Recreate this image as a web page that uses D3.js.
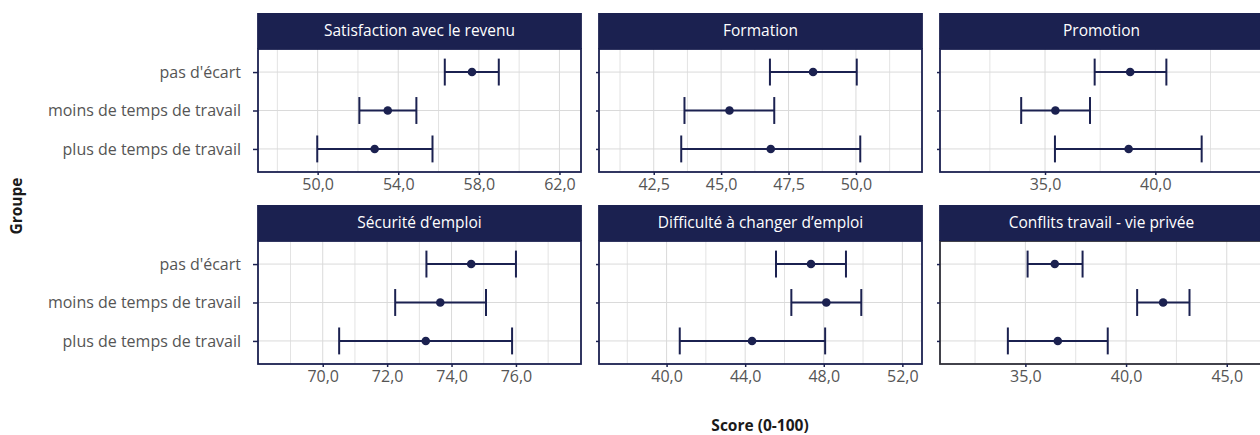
<!DOCTYPE html>
<html>
<head>
<meta charset="utf-8">
<title>Scores par groupe</title>
<script src="https://cdn.jsdelivr.net/npm/d3@7"></script>
<style>
    body { margin: 0; background: #fff; overflow: hidden; }
    svg text { font-family: "Open Sans", "Noto Sans", sans-serif; }
</style>
</head>
<body>
<div id="container"></div>
<script>
// categories
var groups = ["pas d'écart", "moins de temps de travail", "plus de temps de travail"];
var facets = ["Satisfaction avec le revenu", "Formation", "Promotion",
              "Sécurité d’emploi", "Difficulté à changer d’emploi", "Conflits travail - vie privée"];

// values, one row per facet, in the order of groups
var means = [
    [57.66, 53.48, 52.83],
    [48.41, 45.31, 46.84],
    [38.86, 35.47, 38.79],
    [74.61, 73.65, 73.20],
    [47.35, 48.13, 44.35],
    [36.46, 41.84, 36.61]
];
var lower = [
    [56.31, 52.07, 49.98],
    [46.81, 43.64, 43.52],
    [37.25, 33.92, 35.45],
    [73.22, 72.25, 70.51],
    [45.57, 46.35, 40.67],
    [35.11, 40.55, 34.13]
];
var upper = [
    [58.99, 54.90, 55.70],
    [50.03, 46.97, 50.16],
    [40.50, 37.04, 42.10],
    [76.00, 75.07, 75.88],
    [49.13, 49.91, 48.07],
    [37.84, 43.15, 39.09]
];

// free x scales per facet
var domains = [
    [47.04, 63.07],
    [40.47, 52.45],
    [30.24, 44.88],
    [67.99, 78.02],
    [36.56, 53.00],
    [30.76, 46.80]
];
var majorTicks = [
    [50, 54, 58, 62],
    [42.5, 45, 47.5, 50],
    [35, 40],
    [70, 72, 74, 76],
    [40, 44, 48, 52],
    [35, 40, 45]
];
var minorTicks = [
    [48, 52, 56, 60],
    [41.25, 43.75, 46.25, 48.75, 51.25],
    [32.5, 37.5, 42.5],
    [69, 71, 73, 75, 77],
    [38, 42, 46, 50],
    [32.5, 37.5, 42.5]
];

var W = 1260, H = 435;
var navy = "#1b2150";
var colLeft = [258, 599, 940], panelW = 323;
var rowTop = [13, 205], stripH = 36, panelH = 123;
var tickFont = 16;

var fr = d3.formatLocale({ decimal: ",", thousands: " ", grouping: [3], currency: ["", " €"] });
var fmt = fr.format(".1f");

var svg = d3.select("#container").append("svg")
    .attr("width", W).attr("height", H);

facets.forEach(function (name, i) {
    var col = i % 3, row = Math.floor(i / 3);
    var x0 = colLeft[col], y0 = rowTop[row];
    var py = y0 + stripH;

    var x = d3.scaleLinear().domain(domains[i]).range([x0, x0 + panelW]);
    var y = d3.scalePoint().domain(groups).range([py, py + panelH]).padding(0.6);

    var g = svg.append("g");

    // clip so the right column can run off the page like the original
    g.append("clipPath").attr("id", "clip" + i)
        .append("rect").attr("x", x0).attr("y", py).attr("width", panelW).attr("height", panelH);

    var grid = g.append("g").attr("clip-path", "url(#clip" + i + ")");
    grid.selectAll(".minor").data(minorTicks[i]).enter().append("line")
        .attr("x1", function (d) { return x(d); }).attr("x2", function (d) { return x(d); })
        .attr("y1", py).attr("y2", py + panelH)
        .attr("stroke", "#e3e3e3").attr("stroke-width", 1);
    grid.selectAll(".major").data(majorTicks[i]).enter().append("line")
        .attr("x1", function (d) { return x(d); }).attr("x2", function (d) { return x(d); })
        .attr("y1", py).attr("y2", py + panelH)
        .attr("stroke", "#dadada").attr("stroke-width", 1);
    grid.selectAll(".hgrid").data(groups).enter().append("line")
        .attr("x1", x0).attr("x2", x0 + panelW)
        .attr("y1", function (d) { return y(d); }).attr("y2", function (d) { return y(d); })
        .attr("stroke", "#dadada").attr("stroke-width", 1);

    // error bars + points
    var rows = groups.map(function (gr, k) {
        return { group: gr, m: means[i][k], lo: lower[i][k], hi: upper[i][k] };
    });
    var cap = y.step() * 0.35;
    var bars = g.append("g").attr("stroke", navy).attr("stroke-width", 2).attr("fill", "none");
    bars.selectAll(".h").data(rows).enter().append("line")
        .attr("x1", function (d) { return x(d.lo); }).attr("x2", function (d) { return x(d.hi); })
        .attr("y1", function (d) { return y(d.group); }).attr("y2", function (d) { return y(d.group); });
    bars.selectAll(".l").data(rows).enter().append("line")
        .attr("x1", function (d) { return x(d.lo); }).attr("x2", function (d) { return x(d.lo); })
        .attr("y1", function (d) { return y(d.group) - cap; }).attr("y2", function (d) { return y(d.group) + cap; });
    bars.selectAll(".r").data(rows).enter().append("line")
        .attr("x1", function (d) { return x(d.hi); }).attr("x2", function (d) { return x(d.hi); })
        .attr("y1", function (d) { return y(d.group) - cap; }).attr("y2", function (d) { return y(d.group) + cap; });
    g.selectAll("circle").data(rows).enter().append("circle")
        .attr("cx", function (d) { return x(d.m); }).attr("cy", function (d) { return y(d.group); })
        .attr("r", 4.3).attr("fill", navy);

    // panel border
    g.append("rect").attr("x", x0).attr("y", py).attr("width", panelW).attr("height", panelH)
        .attr("fill", "none").attr("stroke", i === 5 ? "#2e2e38" : navy).attr("stroke-width", 1.8);

    // strip
    g.append("rect").attr("x", x0 - 0.9).attr("y", y0).attr("width", panelW + 1.8).attr("height", stripH)
        .attr("fill", navy);
    g.append("text").attr("x", x0 + panelW / 2).attr("y", y0 + stripH / 2).attr("dy", "0.35em")
        .attr("text-anchor", "middle").attr("fill", "#fff").attr("font-size", 15.5).text(name);

    // x axis
    var xa = g.append("g").attr("transform", "translate(0," + (py + panelH) + ")")
        .call(d3.axisBottom(x).tickValues(majorTicks[i]).tickFormat(fmt).tickSize(3).tickPadding(4));
    xa.select(".domain").remove();
    xa.selectAll("line").attr("stroke", navy).attr("stroke-width", 1.5);
    xa.selectAll("text").attr("fill", "#555").attr("font-size", tickFont)
        .attr("font-family", "'Open Sans', 'Noto Sans', sans-serif");

    // y axis on first column only
    var ya = g.append("g").attr("transform", "translate(" + x0 + ",0)")
        .call(d3.axisLeft(y).tickSize(col === 0 ? 5 : 3).tickPadding(col === 0 ? 12 : 0));
    ya.select(".domain").remove();
    ya.selectAll("line").attr("stroke", navy).attr("stroke-width", 1.5);
    ya.selectAll("text").attr("fill", "#555").attr("font-size", tickFont)
        .attr("font-family", "'Open Sans', 'Noto Sans', sans-serif");
    if (col !== 0) ya.selectAll("text").remove();
});

// axis titles
svg.append("text").attr("transform", "translate(17,206) rotate(-90)")
    .attr("text-anchor", "middle").attr("dy", "0.35em")
    .attr("font-size", 15.5).attr("font-weight", "bold").attr("fill", "#1a1a1a").text("Groupe");
svg.append("text").attr("x", 760).attr("y", 426).attr("dy", "0.35em")
    .attr("text-anchor", "middle")
    .attr("font-size", 15.5).attr("font-weight", "bold").attr("fill", "#1a1a1a").text("Score (0-100)");
</script>
</body>
</html>
